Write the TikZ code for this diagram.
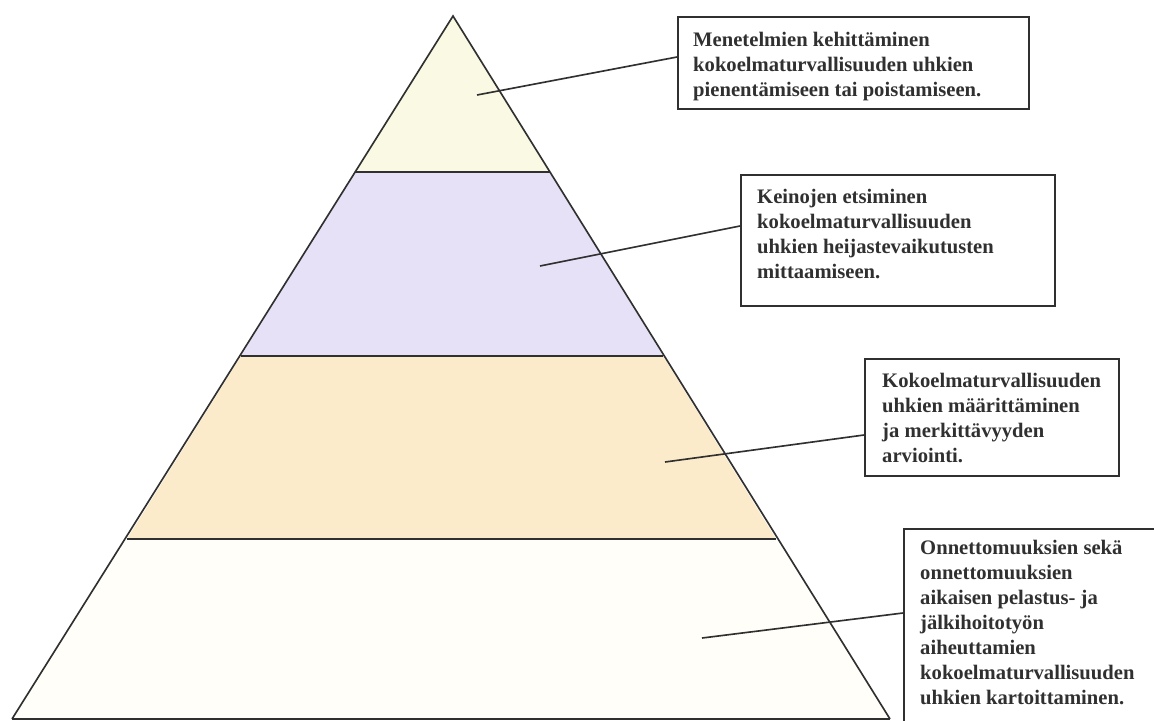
\documentclass[tikz,border=0pt]{standalone}
\usepackage{fontspec}
\setmainfont{Liberation Serif}
\usetikzlibrary{calc}

\definecolor{tipfill}{HTML}{FAFAE4}
\definecolor{lilacfill}{HTML}{E6E1F6}
\definecolor{sandfill}{HTML}{FCEBCA}
\definecolor{basefill}{HTML}{FFFEF9}
\definecolor{inkgray}{HTML}{303030}

\begin{document}
\begin{tikzpicture}[x=0.03cm,y=-0.03cm,
  pyrline/.style={draw=inkgray, line width=1.4pt},
  callout/.style={draw=inkgray, line width=1.4pt, rectangle, inner sep=0pt, anchor=north west},
  calltext/.style={anchor=base west, align=left, inner sep=0pt, text=inkgray,
    font=\fontsize{17.6}{21.34}\selectfont\bfseries}]

  \useasboundingbox (0,0) rectangle (1154,720);
  \clip (0,0) rectangle (1154,720);

  % Define vertices
  \coordinate (T) at (453,16);
  \coordinate (L1) at (355,172);
  \coordinate (R1) at (550,172);
  \coordinate (L2) at (241,356);
  \coordinate (R2) at (663,356);
  \coordinate (L3) at (127,539);
  \coordinate (R3) at (776,539);
  \coordinate (L4) at (12,719);
  \coordinate (R4) at (890,719);

  % Fill the levels
  \fill[tipfill] (T) -- (R1) -- (L1) -- cycle;
  \fill[lilacfill] (L1) -- (R1) -- (R2) -- (L2) -- cycle;
  \fill[sandfill] (L2) -- (R2) -- (R3) -- (L3) -- cycle;
  \fill[basefill] (L3) -- (R3) -- (R4) -- (L4) -- cycle;

  % Draw outline and level lines
  \draw[pyrline] (L4) -- (T) -- (R4);
  \draw[pyrline] (L1) -- (R1);
  \draw[pyrline] (L2) -- (R2);
  \draw[pyrline] (L3) -- (R3);
  \draw[pyrline] (L4) -- (R4);

  % Points inside the levels
  \coordinate (p1) at (477,95);
  \coordinate (p2) at (540,266);
  \coordinate (p3) at (665,462);
  \coordinate (p4) at (702,638);

  % Draw boxes
  \node[callout, minimum width=10.53cm, minimum height=2.76cm] (b1) at (677,16) {};
  \node[callout, minimum width=9.42cm, minimum height=3.93cm] (b2) at (740,174) {};
  \node[callout, minimum width=7.62cm, minimum height=3.51cm] (b3) at (864,358) {};
  \node[callout, minimum width=7.86cm, minimum height=6cm] (b4) at (903,528) {};

  % Box texts (placed at the baseline of their last line)
  \node[calltext] (t1) at ($(b1.north west)+(16,80)$)
    {Menetelmien kehittäminen\\kokoelmaturvallisuuden uhkien\\pienentämiseen tai poistamiseen.};
  \node[calltext] (t2) at ($(b2.north west)+(17,104)$)
    {Keinojen etsiminen\\kokoelmaturvallisuuden\\uhkien heijastevaikutusten\\mittaamiseen.};
  \node[calltext] (t3) at ($(b3.north west)+(18,104)$)
    {Kokoelmaturvallisuuden\\uhkien määrittäminen\\ja merkittävyyden\\arviointi.};
  \node[calltext] (t4) at ($(b4.north west)+(17,176)$)
    {Onnettomuuksien sekä\\onnettomuuksien\\aikaisen pelastus- ja\\jälkihoitotyön\\aiheuttamien\\kokoelmaturvallisuuden\\uhkien kartoittaminen.};

  % Connect levels to boxes
  \draw[pyrline] (p1) -- ($(b1.north west)+(0,41)$);
  \draw[pyrline] (p2) -- ($(b2.north west)+(0,52)$);
  \draw[pyrline] (p3) -- ($(b3.north west)+(0,77)$);
  \draw[pyrline] (p4) -- ($(b4.north west)+(0,85)$);
\end{tikzpicture}
\end{document}
